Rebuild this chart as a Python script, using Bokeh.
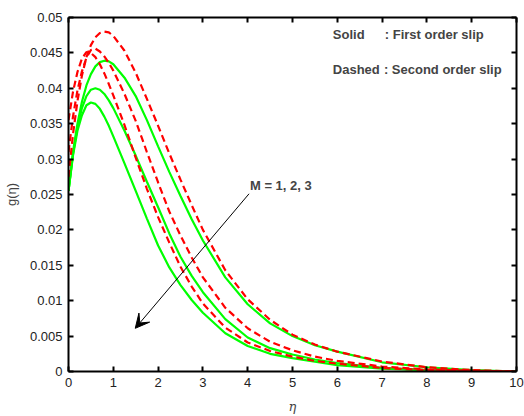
from bokeh.plotting import figure
from bokeh.models import LinearAxis, Range1d, FixedTicker, Arrow, VeeHead, Label, CustomJSTickFormatter
from bokeh.embed import file_html
from bokeh.resources import INLINE

# ---- data ----
eta = [0, 0.1, 0.2, 0.3, 0.4, 0.5, 0.6, 0.7, 0.8, 0.9, 1.0, 1.25, 1.5, 1.75, 2.0,
       2.25, 2.5, 2.75, 3.0, 3.5, 4.0, 4.5, 5.0, 5.5, 6, 7, 8, 9, 10]

first_M1 = [0.0255, 0.0310, 0.0350, 0.0381, 0.0404, 0.0420, 0.0431, 0.0437, 0.0439, 0.0438,
            0.0434, 0.0415, 0.0389, 0.0355, 0.0318, 0.0282, 0.0248, 0.0215, 0.0185, 0.0133,
            0.0095, 0.0068, 0.0050, 0.0037, 0.0028, 0.0013, 0.0006, 0.0002, 0.0000]
first_M2 = [0.0255, 0.0307, 0.0345, 0.0372, 0.0389, 0.0398, 0.0400, 0.0398, 0.0392, 0.0383,
            0.0372, 0.0340, 0.0305, 0.0268, 0.0232, 0.0195, 0.0162, 0.0135, 0.0112, 0.0074,
            0.0048, 0.0033, 0.0024, 0.0017, 0.0012, 0.0005, 0.0002, 0.0001, 0.0000]
first_M3 = [0.0255, 0.0305, 0.0340, 0.0362, 0.0376, 0.0380, 0.0378, 0.0371, 0.0360, 0.0347,
            0.0332, 0.0294, 0.0255, 0.0216, 0.0178, 0.0147, 0.0122, 0.0101, 0.0083, 0.0054,
            0.0036, 0.0025, 0.0019, 0.0014, 0.0009, 0.0004, 0.0002, 0.0001, 0.0000]

second_M1 = [0.0275, 0.0335, 0.0382, 0.0418, 0.0444, 0.0461, 0.0472, 0.0478, 0.0480, 0.0479,
             0.0474, 0.0453, 0.0422, 0.0385, 0.0347, 0.0308, 0.0271, 0.0235, 0.0200, 0.0143,
             0.0102, 0.0073, 0.0052, 0.0038, 0.0028, 0.0014, 0.0006, 0.0002, 0.0000]
second_M2 = [0.0310, 0.0360, 0.0397, 0.0424, 0.0443, 0.0454, 0.0456, 0.0452, 0.0445, 0.0436,
             0.0425, 0.0392, 0.0354, 0.0310, 0.0267, 0.0226, 0.0192, 0.0161, 0.0133, 0.0090,
             0.0061, 0.0042, 0.0030, 0.0021, 0.0015, 0.0007, 0.0003, 0.0001, 0.0000]
second_M3 = [0.0355, 0.0395, 0.0423, 0.0442, 0.0451, 0.0450, 0.0444, 0.0434, 0.0421, 0.0406,
             0.0390, 0.0348, 0.0302, 0.0258, 0.0218, 0.0182, 0.0148, 0.0120, 0.0096, 0.0062,
             0.0041, 0.0029, 0.0021, 0.0015, 0.0011, 0.0005, 0.0002, 0.0001, 0.0000]

x_ticks = [0, 1, 2, 3, 4, 5, 6, 7, 8, 9, 10]
y_ticks = [0, 0.005, 0.01, 0.015, 0.02, 0.025, 0.03, 0.035, 0.04, 0.045, 0.05]
y_tick_labels = ["0", "0.005", "0.01", "0.015", "0.02", "0.025", "0.03", "0.035", "0.04", "0.045", "0.05"]

legend_solid = ["Solid", ": First order slip"]
legend_dashed = ["Dashed", ": Second order slip"]
annotation_text = "M = 1, 2, 3"
arrow_from = (4.03, 0.0251)
arrow_to = (1.49, 0.0061)
label_pos = (4.05, 0.0263)
legend_x = (5.9, 7.06, 7.04)
legend_y = (0.0476, 0.0427)

FONT = "Liberation Sans"

p = figure(width=524, height=416, output_backend="svg", toolbar_location=None,
           x_range=Range1d(0, 10), y_range=Range1d(0, 0.05),
           min_border_left=67, min_border_right=8, min_border_top=17, min_border_bottom=45)
p.background_fill_color = "white"
p.border_fill_color = "white"
p.outline_line_color = None
p.grid.visible = False

for ys in (first_M1, first_M2, first_M3):
    p.line(eta, ys, line_color="#00ff00", line_width=2.2)
for ys in (second_M1, second_M2, second_M3):
    p.line(eta, ys, line_color="#ff0000", line_width=2.2, line_dash="7 4")


def style_axis(ax, show_labels):
    ax.axis_line_width = 2
    ax.axis_line_color = "black"
    ax.major_tick_line_width = 2
    ax.major_tick_line_color = "black"
    ax.major_tick_in = 5
    ax.major_tick_out = 0
    ax.minor_tick_line_color = None
    ax.major_label_text_font = FONT
    ax.major_label_text_font_size = "13px"
    ax.major_label_text_color = "#222222"
    if show_labels:
        ax.major_label_standoff = 6
    else:
        ax.formatter = CustomJSTickFormatter(code="return ''")
        ax.major_label_standoff = 0


xa = p.xaxis[0]
xa.ticker = FixedTicker(ticks=x_ticks)
style_axis(xa, True)
xa.axis_label = "η"
xa.axis_label_text_font = "DejaVu Serif"
xa.axis_label_text_font_style = "italic"
xa.axis_label_text_font_size = "13px"
xa.axis_label_standoff = 9

ya = p.yaxis[0]
ya.ticker = FixedTicker(ticks=y_ticks)
ya.major_label_overrides = {t: s for t, s in zip(y_ticks, y_tick_labels)}
style_axis(ya, True)
ya.axis_label = "g(η)"
ya.axis_label_text_font = FONT
ya.axis_label_text_font_style = "normal"
ya.axis_label_text_font_size = "13px"
ya.axis_label_standoff = 8

top = LinearAxis(ticker=FixedTicker(ticks=x_ticks))
style_axis(top, False)
p.add_layout(top, "above")
right = LinearAxis(ticker=FixedTicker(ticks=y_ticks))
style_axis(right, False)
p.add_layout(right, "right")

p.add_layout(Arrow(end=VeeHead(size=14, fill_color="black", line_color="black"),
                   x_start=arrow_from[0], y_start=arrow_from[1],
                   x_end=arrow_to[0], y_end=arrow_to[1],
                   line_color="black", line_width=1))

p.add_layout(Label(x=label_pos[0], y=label_pos[1], text=annotation_text,
                   text_font=FONT, text_font_size="13px", text_font_style="bold",
                   text_baseline="middle", text_align="left"))

p.add_layout(Label(x=legend_x[0], y=legend_y[0], text=legend_solid[0],
                   text_font=FONT, text_font_size="13px", text_font_style="bold",
                   text_baseline="middle"))
p.add_layout(Label(x=legend_x[1], y=legend_y[0], text=legend_solid[1],
                   text_font=FONT, text_font_size="13px", text_font_style="bold",
                   text_baseline="middle"))
p.add_layout(Label(x=legend_x[0], y=legend_y[1], text=legend_dashed[0],
                   text_font=FONT, text_font_size="13px", text_font_style="bold",
                   text_baseline="middle"))
p.add_layout(Label(x=legend_x[2], y=legend_y[1], text=legend_dashed[1],
                   text_font=FONT, text_font_size="13px", text_font_style="bold",
                   text_baseline="middle"))

open("out.html", "w").write(file_html(p, INLINE))
